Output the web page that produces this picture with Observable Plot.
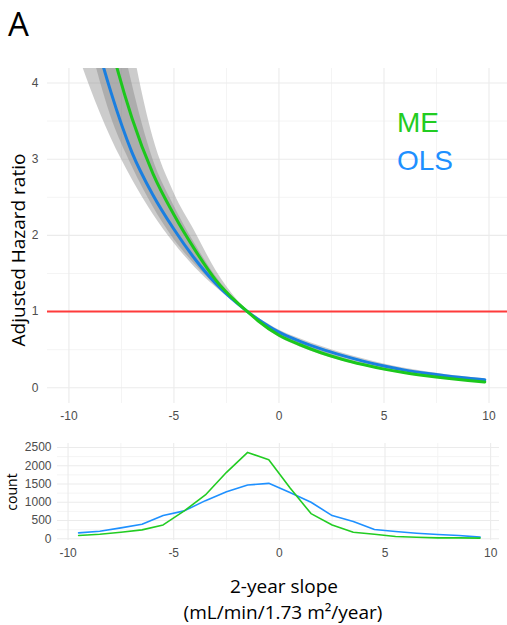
<!DOCTYPE html>
<html><head><meta charset="utf-8">
<script src="https://cdn.jsdelivr.net/npm/d3@7"></script>
<script src="https://cdn.jsdelivr.net/npm/@observablehq/plot@0.6"></script>
<style>
body{margin:0;background:#fff;}
#wrap{position:relative;width:507px;height:625px;overflow:hidden;background:#fff;}
.pl{position:absolute;left:0;}
#overlay{position:absolute;left:0;top:0;pointer-events:none;}
</style></head><body><div id="wrap"></div>
<script>
// ---- data: hazard ratio curves ----
const slope = [-10,-9,-8,-7,-6,-5,-4,-3,-2,-1.5,-1,0,1,2,3,4,5,6,7,8,9,9.8];
const olsHR = [6.1,4.87,3.88,3.09,2.53,2.08,1.69,1.365,1.11,1.00,0.90,0.73,0.61,0.51,0.425,0.35,0.285,0.232,0.19,0.155,0.126,0.105];
const olsLo = [4.74,3.95,3.28,2.74,2.28,1.90,1.58,1.32,1.10,1.00,0.88,0.70,0.575,0.475,0.393,0.322,0.261,0.211,0.172,0.14,0.113,0.093];
const olsHi = [9.4,7.08,5.32,4.0,3.0,2.39,1.89,1.46,1.135,1.00,0.92,0.76,0.645,0.545,0.458,0.38,0.311,0.255,0.21,0.172,0.141,0.118];
const meHR  = [7.28,5.73,4.5,3.54,2.81,2.27,1.81,1.41,1.12,1.00,0.88,0.69,0.565,0.46,0.375,0.305,0.245,0.197,0.158,0.125,0.097,0.077];
const meLo  = [5.64,4.52,3.56,2.91,2.38,1.95,1.62,1.34,1.10,1.00,0.865,0.665,0.537,0.435,0.352,0.285,0.228,0.182,0.145,0.114,0.088,0.069];
const meHi  = [12.0,8.7,6.28,4.55,3.29,2.56,2.05,1.54,1.156,1.00,0.90,0.715,0.59,0.485,0.398,0.325,0.262,0.212,0.171,0.136,0.106,0.085];
const refHR = [1];

// ---- data: frequency polygons ----
const binMid = [-9.5,-8.5,-7.5,-6.5,-5.5,-4.5,-3.5,-2.5,-1.5,-0.5,0.5,1.5,2.5,3.5,4.5,5.5,6.5,7.5,8.5,9.5];
const meCount  = [90,125,180,245,380,765,1200,1820,2365,2165,1400,690,380,180,125,63,45,27,27,20];
const olsCount = [163,208,300,400,636,765,1045,1290,1473,1518,1270,1000,636,472,254,200,153,117,90,46];

// ---- ticks ----
const xMajor = [-10,-5,0,5,10];
const xMinor = [-7.5,-2.5,2.5,7.5];
const hrMajor = [0,1,2,3,4];
const hrMinor = [0.5,1.5,2.5,3.5];
const cMajor = [0,500,1000,1500,2000,2500];
const cMinor = [250,750,1250,1750,2250];

const seriesNames = ["ME","OLS"];
const colTopME = "#1cc81c", colTopOLS = "#1a7fe0";
const colME = "#22cc22", colOLS = "#1e90ff";

const curves = slope.map((s,i)=>({s, ols: olsHR[i], olsLo: olsLo[i], olsHi: olsHi[i], me: meHR[i], meLo: meLo[i], meHi: meHi[i]}));
const freq = binMid.map((b,i)=>({b, me: meCount[i], ols: olsCount[i]}));

const tickStyle = {fontFamily: "'Liberation Sans', Arial, sans-serif", fontSize: "12px", color: "#4d4d4d", background: "transparent", overflow: "visible"};
const fmt = d => String(d);
const smooth = "monotone-x";

const hrPlot = Plot.plot({
  width: 507, height: 370,
  marginTop: 8, marginBottom: 27, marginLeft: 47, marginRight: 0,
  style: tickStyle,
  x: {domain: [-11.02, 10.88], ticks: xMajor, tickSize: 0, tickPadding: 8, tickFormat: fmt, label: null},
  y: {domain: [-0.206, 4.19], ticks: hrMajor, tickSize: 0, tickPadding: 9, tickFormat: fmt, label: null},
  marks: [
    Plot.ruleX(xMinor, {stroke: "#f4f4f4", strokeWidth: 1}),
    Plot.ruleY(hrMinor, {stroke: "#f4f4f4", strokeWidth: 1}),
    Plot.ruleX(xMajor, {stroke: "#ebebeb", strokeWidth: 1.1}),
    Plot.ruleY(hrMajor, {stroke: "#ebebeb", strokeWidth: 1.1}),
    Plot.areaY(curves, {x: "s", y1: "olsLo", y2: "olsHi", fill: "#808080", fillOpacity: 0.4, curve: smooth, clip: true}),
    Plot.areaY(curves, {x: "s", y1: "meLo", y2: "meHi", fill: "#808080", fillOpacity: 0.4, curve: smooth, clip: true}),
    Plot.ruleY(refHR, {stroke: "#ff3b3b", strokeWidth: 2}),
    Plot.line(curves, {x: "s", y: "ols", stroke: colTopOLS, strokeWidth: 3, curve: smooth, clip: true}),
    Plot.line(curves, {x: "s", y: "me", stroke: colTopME, strokeWidth: 3, curve: smooth, clip: true})
  ]
});

const countPlot = Plot.plot({
  width: 507, height: 135,
  marginTop: 8, marginBottom: 30, marginLeft: 57, marginRight: 8,
  style: tickStyle,
  x: {domain: [-10.5, 10.42], ticks: xMajor, tickSize: 0, tickPadding: 8, tickFormat: fmt, label: null},
  y: {domain: [-46, 2609], ticks: cMajor, tickSize: 0, tickPadding: 6, tickFormat: fmt, label: null},
  marks: [
    Plot.ruleX(xMinor, {stroke: "#f4f4f4", strokeWidth: 1}),
    Plot.ruleY(cMinor, {stroke: "#f4f4f4", strokeWidth: 1}),
    Plot.ruleX(xMajor, {stroke: "#ebebeb", strokeWidth: 1.1}),
    Plot.ruleY(cMajor, {stroke: "#ebebeb", strokeWidth: 1.1}),
    Plot.line(freq, {x: "b", y: "ols", stroke: colOLS, strokeWidth: 1.6}),
    Plot.line(freq, {x: "b", y: "me", stroke: colME, strokeWidth: 1.6})
  ]
});

const wrap = document.getElementById("wrap");
const d1 = document.createElement("div"); d1.className = "pl"; d1.style.top = "60px"; d1.appendChild(hrPlot); wrap.appendChild(d1);
const d2 = document.createElement("div"); d2.className = "pl"; d2.style.top = "435px"; d2.appendChild(countPlot); wrap.appendChild(d2);

// ---- text overlay ----
const ns = "http://www.w3.org/2000/svg";
const ov = document.createElementNS(ns, "svg");
ov.setAttribute("id", "overlay"); ov.setAttribute("width", 507); ov.setAttribute("height", 625);
function txt(str, attrs) {
  const t = document.createElementNS(ns, "text");
  for (const k in attrs) t.setAttribute(k, attrs[k]);
  t.textContent = str; ov.appendChild(t); return t;
}
const sans = "'Open Sans', 'Noto Sans', sans-serif";
txt("A", {x: 8, y: 36, "font-family": sans, "font-size": 33, fill: "#000"});
txt("Adjusted Hazard ratio", {transform: "translate(25,250) rotate(-90)", "text-anchor": "middle", "font-family": sans, "font-size": 19, fill: "#000"});
txt("count", {transform: "translate(17,492) rotate(-90)", "text-anchor": "middle", "font-family": sans, "font-size": 14, fill: "#000"});
txt("2-year slope", {x: 284, y: 593, "text-anchor": "middle", "font-family": sans, "font-size": 19, fill: "#000"});
txt("(mL/min/1.73 m²/year)", {x: 283, y: 619, "text-anchor": "middle", "font-family": sans, "font-size": 19, fill: "#000"});
txt(seriesNames[0], {x: 397, y: 132, "font-family": "'Liberation Sans', Arial, sans-serif", "font-size": 28, fill: colME});
txt(seriesNames[1], {x: 397, y: 170, "font-family": "'Liberation Sans', Arial, sans-serif", "font-size": 28, fill: colOLS});
wrap.appendChild(ov);
</script></body></html>
